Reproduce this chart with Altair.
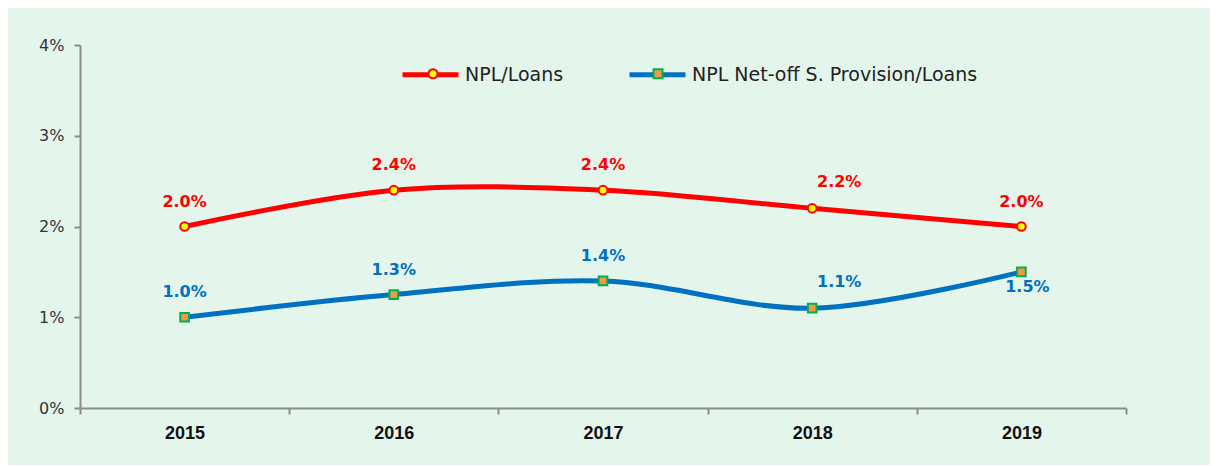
import altair as alt
import pandas as pd

years = ["2015", "2016", "2017", "2018", "2019"]
series_names = ["NPL/Loans", "NPL Net-off S. Provision/Loans"]
npl_loans = [2.0, 2.4, 2.4, 2.2, 2.0]
npl_net = [1.0, 1.25, 1.4, 1.1, 1.5]
npl_loans_labels = ["2.0%", "2.4%", "2.4%", "2.2%", "2.0%"]
npl_net_labels = ["1.0%", "1.3%", "1.4%", "1.1%", "1.5%"]
label_below = [False, False, False, False, True]  # net series: label placed under the point
y_ticks = [0, 1, 2, 3, 4]

rows = []
for i, y in enumerate(years):
    rows.append({"year": y, "series": series_names[0], "value": npl_loans[i],
                 "label": npl_loans_labels[i], "below": False})
for i, y in enumerate(years):
    rows.append({"year": y, "series": series_names[1], "value": npl_net[i],
                 "label": npl_net_labels[i], "below": label_below[i]})
df = pd.DataFrame(rows)

RED = "#FF0000"
BLUE = "#0070C0"
BG = "#E4F5EC"
AXIS = "#8C8C8C"
MARK_FILL = ["#FFFF00", "#F79646"]
MARK_STROKE = [RED, "#00B050"]
MARK_SHAPE = ["circle", "square"]

x_enc = alt.X("year:N", sort=years, bandPosition=0.5,
              scale=alt.Scale(type="band", paddingInner=0, paddingOuter=0),
              axis=alt.Axis(title=None, tickBand="extent", labelAngle=0,
                            labelFont="Liberation Sans", labelFontWeight="bold",
                            labelFontSize=18, labelColor="#111111",
                            labelPadding=10, domainColor=AXIS, domainWidth=2,
                            tickColor=AXIS, tickWidth=2, tickSize=6, grid=False))
y_enc = alt.Y("value:Q", scale=alt.Scale(domain=[0, 4], nice=False),
              axis=alt.Axis(title=None, values=y_ticks, labelExpr="datum.value + '%'",
                            labelFont="DejaVu Sans", labelFontSize=16, labelColor="#333333",
                            labelPadding=10, domainColor=AXIS, domainWidth=2,
                            tickColor=AXIS, tickWidth=2, tickSize=6, grid=False))
color_scale = alt.Scale(domain=series_names, range=[RED, BLUE])

LEG_X = 320
LEG_Y = -1
SYM_LEN = 56
MARK_W = 9

base = alt.Chart(df)

lines = base.mark_line(strokeWidth=5, interpolate="catmull-rom").encode(
    x=x_enc, y=y_enc,
    color=alt.Color("series:N", scale=color_scale, sort=series_names,
                    legend=alt.Legend(title=None, orient="none", direction="horizontal",
                                      legendX=LEG_X, legendY=LEG_Y, symbolType="stroke",
                                      symbolSize=SYM_LEN * SYM_LEN, symbolStrokeWidth=5,
                                      labelFont="DejaVu Sans", labelFontSize=19,
                                      labelColor="#222222", labelOffset=4,
                                      labelLimit=500, columnPadding=55)),
)

# marker-only legend laid over the line legend (no labels of its own)
marker_legend = alt.Legend(title=None, orient="none", direction="horizontal",
                           legendX=LEG_X + (SYM_LEN - MARK_W) / 2, legendY=LEG_Y + 20,
                           symbolSize=MARK_W * MARK_W, symbolStrokeWidth=2,
                           labelFont="DejaVu Sans", labelFontSize=19,
                           labelExpr="''", labelOffset=0, columnPadding=206)

points = base.transform_calculate(marker="datum.series").mark_point(
    filled=True, strokeWidth=2, size=75, opacity=1).encode(
    x=x_enc, y=y_enc,
    fill=alt.Fill("marker:N", sort=series_names,
                  scale=alt.Scale(domain=series_names, range=MARK_FILL), legend=marker_legend),
    stroke=alt.Stroke("marker:N", sort=series_names,
                      scale=alt.Scale(domain=series_names, range=MARK_STROKE), legend=marker_legend),
    shape=alt.Shape("marker:N", sort=series_names,
                    scale=alt.Scale(domain=series_names, range=MARK_SHAPE), legend=marker_legend),
)

label_color = alt.Color("series:N", scale=color_scale, legend=None)
label_font = dict(font="DejaVu Sans", fontWeight="bold", fontSize=16)

labels_above = base.transform_filter(
    (alt.datum.below == False) & (alt.datum.year != "2018")).mark_text(
    dy=-25, **label_font).encode(x=x_enc, y=y_enc, text="label:N", color=label_color)

labels_above_right = base.transform_filter(
    (alt.datum.below == False) & (alt.datum.year == "2018")).mark_text(
    dy=-26, dx=27, **label_font).encode(x=x_enc, y=y_enc, text="label:N", color=label_color)

labels_below = base.transform_filter(alt.datum.below == True).mark_text(
    dy=15, dx=6, **label_font).encode(x=x_enc, y=y_enc, text="label:N", color=label_color)

chart = alt.layer(lines, points, labels_above, labels_above_right,
                  labels_below).resolve_legend(
    color="independent", fill="independent", stroke="independent", shape="independent"
).properties(
    width=1046, height=363,
    autosize=alt.AutoSizeParams(type="none"),
    padding={"left": 72, "top": 37, "right": 84, "bottom": 57},
    background=BG,
).configure_view(stroke=None)

chart.save("out.html", embed_options={"renderer": "svg", "actions": False})
